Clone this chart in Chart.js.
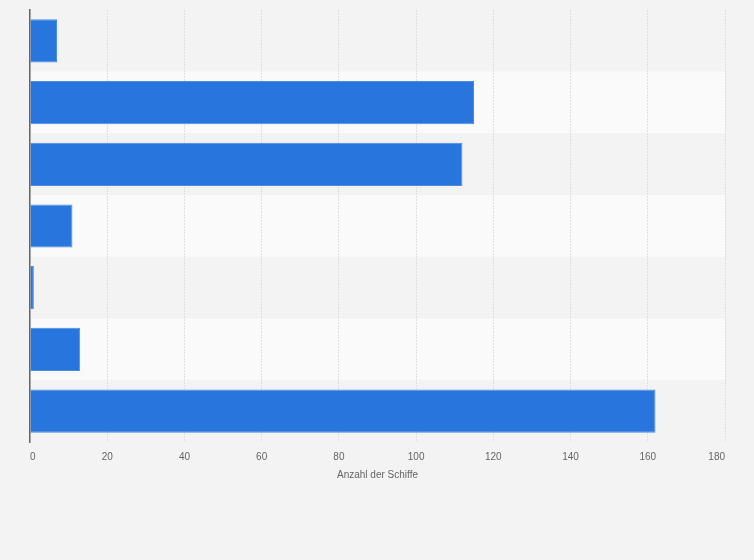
<!DOCTYPE html>
<html>
<head>
<meta charset="utf-8">
<script src="https://cdn.jsdelivr.net/npm/chart.js@4/dist/chart.umd.min.js"></script>
<style>
  html, body { margin: 0; padding: 0; background: #f3f3f3; }
  #wrap { width: 754px; height: 560px; position: relative; }
</style>
</head>
<body>
<div id="wrap"><canvas id="chart"></canvas></div>
<script>
// Categories have no visible labels in the reference
const categories = ['', '', '', '', '', '', ''];
const shipCounts = [7, 115, 112, 11, 1, 13, 162];
const xTicks = [0, 20, 40, 60, 80, 100, 120, 140, 160, 180];

const barColor = '#2876dd';

// alternating row bands behind the bars
const rowBands = {
    id: 'rowBands',
    beforeDraw(chart) {
        const { ctx, chartArea, scales } = chart;
        const y = scales.y;
        const step = y.getPixelForValue(1) - y.getPixelForValue(0);
        ctx.save();
        categories.forEach((c, i) => {
            const mid = y.getPixelForValue(i);
            ctx.fillStyle = i % 2 === 1 ? '#fafafa' : '#f3f3f3';
            ctx.fillRect(chartArea.left, mid - step / 2, chartArea.right - chartArea.left, step);
        });
        ctx.restore();
    }
};

new Chart(document.getElementById('chart').getContext('2d'), {
    type: 'bar',
    data: {
        labels: categories,
        datasets: [{
            label: 'Anzahl der Schiffe',
            data: shipCounts,
            backgroundColor: barColor,
            borderColor: '#4a8ce4',
            borderWidth: 1,
            borderSkipped: 'start',
            categoryPercentage: 0.7,
            barPercentage: 1.0
        }]
    },
    options: {
        indexAxis: 'y',
        responsive: true,
        maintainAspectRatio: false,
        animation: false,
        layout: { padding: { left: 30, right: 29, top: 10, bottom: 79 } },
        scales: {
            x: {
                min: 0,
                max: 180,
                afterBuildTicks: (axis) => { axis.ticks = xTicks.map(v => ({ value: v })); },
                grid: { color: '#e0e0e0', drawTicks: false, lineWidth: 1 },
                border: { display: false, dash: [2, 1] },
                ticks: { color: '#666', font: { family: 'Liberation Sans', size: 10 }, padding: 9, align: 'inner' },
                title: {
                    display: true,
                    text: 'Anzahl der Schiffe',
                    color: '#666',
                    font: { family: 'Liberation Sans', size: 10 },
                    padding: { top: -3, bottom: 0 }
                }
            },
            y: {
                grid: { display: false, drawTicks: false },
                border: { display: true, color: '#666', width: 1.5 },
                ticks: { display: false }
            }
        },
        plugins: {
            legend: { display: false },
            tooltip: { enabled: false }
        }
    },
    plugins: [rowBands]
});
</script>
</body>
</html>
